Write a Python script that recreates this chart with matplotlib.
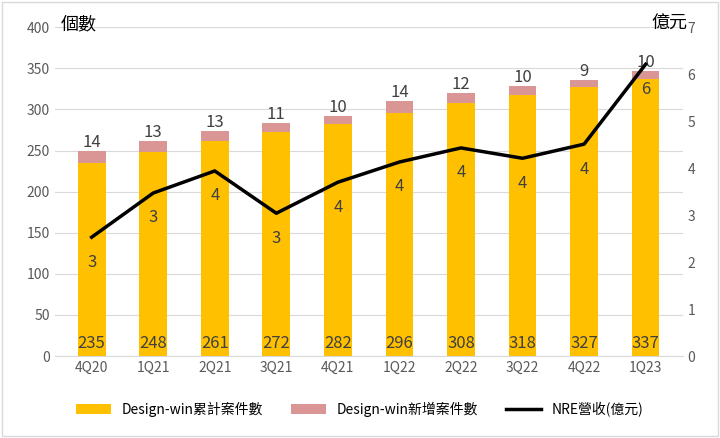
import matplotlib
matplotlib.use("Agg")
import matplotlib.pyplot as plt

plt.rcParams["font.family"] = ["Noto Sans CJK TC", "DejaVu Sans"]

quarters = ["4Q20", "1Q21", "2Q21", "3Q21", "4Q21", "1Q22", "2Q22", "3Q22", "4Q22", "1Q23"]
cumulative = [235, 248, 261, 272, 282, 296, 308, 318, 327, 337]
new_wins = [14, 13, 13, 11, 10, 14, 12, 10, 9, 10]
nre = [2.53, 3.47, 3.94, 3.04, 3.70, 4.13, 4.43, 4.21, 4.51, 6.21]
nre_labels = ["3", "3", "4", "3", "4", "4", "4", "4", "4", "6"]

fig = plt.figure(figsize=(7.2, 4.38), dpi=100)
ax = fig.add_axes([0.076, 0.187, 0.872, 0.751])
ax2 = ax.twinx()

x = range(len(quarters))
ax.bar(x, cumulative, width=0.45, color="#FFC000", label="Design-win累計案件數")
ax.bar(x, new_wins, width=0.45, bottom=cumulative, color="#D99694", label="Design-win新增案件數")
for i in x:
    ax.text(i, 5, str(cumulative[i]), ha="center", va="bottom", fontsize=12, color="#404040")
    ax.text(i, cumulative[i] + new_wins[i], str(new_wins[i]), ha="center", va="bottom",
            fontsize=12, color="#404040")

ax2.plot(x, nre, color="black", lw=2.5, label="NRE營收(億元)")
for i in x:
    ax2.text(i, nre[i] - 0.35, nre_labels[i], ha="center", va="top", fontsize=12, color="#404040")

ax.set_ylim(0, 400)
ax.set_yticks(range(0, 401, 50))
ax2.set_ylim(0, 7)
ax2.set_yticks(range(0, 8))
ax.set_xlim(-0.6, 9.6)
ax.set_xticks(list(x))
ax.set_xticklabels(quarters)
ax.yaxis.grid(True, color="#D9D9D9", lw=0.8)
ax.set_axisbelow(True)
for a in (ax, ax2):
    for s in a.spines.values():
        s.set_visible(False)
    a.tick_params(length=0, labelsize=10, colors="#595959")
ax.spines["bottom"].set_visible(True)
ax.spines["bottom"].set_color("#D9D9D9")

fig.text(0.085, 0.945, "個數", fontsize=13, ha="left", va="center")
fig.text(0.955, 0.945, "億元", fontsize=13, ha="right", va="center")

h1, l1 = ax.get_legend_handles_labels()
h2, l2 = ax2.get_legend_handles_labels()
fig.legend(h1 + h2, l1 + l2, loc="lower center", ncol=3, frameon=False,
           fontsize=10, bbox_to_anchor=(0.5, 0.02), handlelength=2.5)

fig.patches.append(plt.Rectangle((0.003, 0.005), 0.994, 0.99, transform=fig.transFigure,
                                 fill=False, edgecolor="#D9D9D9", lw=1))
fig.savefig("out.png", dpi=100)
